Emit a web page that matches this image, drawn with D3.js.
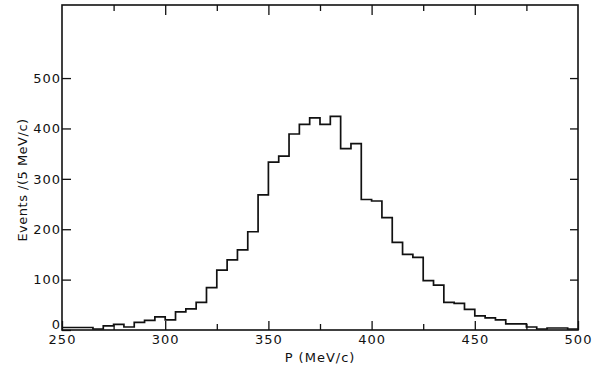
<!DOCTYPE html>
<html>
<head>
<meta charset="utf-8">
<script src="https://cdn.jsdelivr.net/npm/d3@7"></script>
<style>
  html, body { margin: 0; padding: 0; background: #fff; }
  svg { display: block; }
  .tick text { font-family: "DejaVu Sans", sans-serif; font-size: 13px; fill: #111; letter-spacing: 1px; }
  .tick line { stroke: #111; stroke-width: 1.3; }
  .domain { display: none; }
</style>
</head>
<body>
<svg id="chart" width="592" height="373"></svg>
<script>
// Bin lower edges (MeV/c), 5 MeV/c wide
const binStarts = d3.range(250, 500, 5);
// Events per bin
const counts = [5, 5, 5, 2, 8, 11, 6, 15, 19, 26,
                20, 36, 42, 55, 84, 119, 139, 159, 195, 268,
                333, 345, 389, 408, 421, 408, 424, 360, 370, 259,
                256, 223, 174, 150, 144, 98, 89, 55, 53, 41,
                28, 24, 20, 12, 12, 6, 2, 4, 4, 2];
const binWidth = 5;
const xMajorTicks = [250, 300, 350, 400, 450, 500];
const xMinorTicks = [275, 325, 375, 425, 475];
const yTicks = [0, 100, 200, 300, 400, 500];
const xTitle = "P (MeV/c)";
const yTitle = "Events /(5 MeV/c)";

const svg = d3.select("#chart");
const mLeft = 62, mRight = 578, mTop = 5, mBottom = 330;
const x = d3.scaleLinear().domain([250, 500]).range([mLeft, mRight]);
const y = d3.scaleLinear().domain([0, 645]).range([mBottom, mTop]);

// Left axis with labels, ticks pointing inside
const gLeft = svg.append("g").attr("transform", `translate(${mLeft},0)`)
  .call(d3.axisLeft(y).tickValues(yTicks).tickSize(-9).tickPadding(1).tickFormat(d3.format("d")));
// lift the "0" label slightly so it clears the x labels (as in the reference)
gLeft.selectAll(".tick text").filter(d => d === 0).attr("y", -6);

// Right axis ticks (inside, no labels)
svg.append("g").attr("transform", `translate(${mRight},0)`)
  .call(d3.axisRight(y).tickValues(yTicks.filter(d => d > 0)).tickSize(-8).tickFormat(""));

// Bottom axis: major with labels, minor without
svg.append("g").attr("transform", `translate(0,${mBottom})`)
  .call(d3.axisBottom(x).tickValues(xMajorTicks).tickSize(-9).tickPadding(5).tickFormat(d3.format("d")));
svg.append("g").attr("transform", `translate(0,${mBottom})`)
  .call(d3.axisBottom(x).tickValues(xMinorTicks).tickSize(-6).tickFormat(""));

// Top axis ticks
svg.append("g").attr("transform", `translate(0,${mTop})`)
  .call(d3.axisTop(x).tickValues(xMajorTicks.slice(1, -1)).tickSize(-10).tickFormat(""));
svg.append("g").attr("transform", `translate(0,${mTop})`)
  .call(d3.axisTop(x).tickValues(xMinorTicks).tickSize(-6).tickFormat(""));

// Frame
svg.append("rect")
  .attr("x", mLeft).attr("y", mTop)
  .attr("width", mRight - mLeft).attr("height", mBottom - mTop)
  .attr("fill", "none").attr("stroke", "#111").attr("stroke-width", 1.6);

// Histogram outline
const pts = binStarts.map((b, i) => [b, counts[i]]);
pts.push([binStarts[binStarts.length - 1] + binWidth, counts[counts.length - 1]]);
const line = d3.line().x(d => x(d[0])).y(d => y(d[1])).curve(d3.curveStepAfter);
svg.append("path").attr("d", line(pts))
  .attr("fill", "none").attr("stroke", "#111").attr("stroke-width", 1.7);

// Axis titles
svg.append("text")
  .attr("x", (mLeft + mRight) / 2).attr("y", 362)
  .attr("text-anchor", "middle")
  .style("font-family", "DejaVu Sans, sans-serif").style("font-size", "13px")
  .style("letter-spacing", "1px").attr("fill", "#111")
  .text(xTitle);

svg.append("text")
  .attr("transform", "translate(27,180) rotate(-90)")
  .attr("text-anchor", "middle")
  .style("font-family", "DejaVu Sans, sans-serif").style("font-size", "13px")
  .style("letter-spacing", "0.5px").attr("fill", "#111")
  .text(yTitle);
</script>
</body>
</html>
